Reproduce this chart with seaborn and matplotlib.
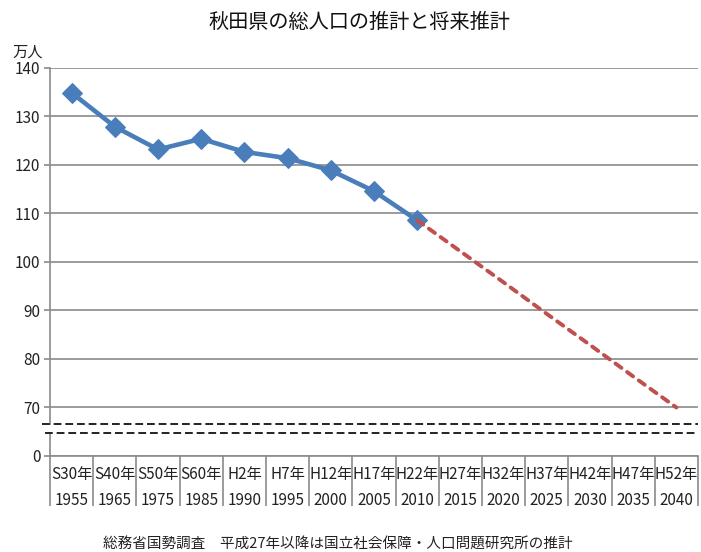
import numpy as np
import pandas as pd
import matplotlib
matplotlib.use("Agg")
import matplotlib.pyplot as plt
from matplotlib.patches import Rectangle
import seaborn as sns

# census (S30 .. H22) and projection (H22 .. H52), in 10,000 persons
census_labels = ["S30年\n1955", "S40年\n1965", "S50年\n1975", "S60年\n1985", "H2年\n1990",
                 "H7年\n1995", "H12年\n2000", "H17年\n2005", "H22年\n2010"]
census_values = [134.9, 127.9, 123.2, 125.4, 122.7, 121.4, 118.9, 114.6, 108.6]

proj_labels = ["H22年\n2010", "H27年\n2015", "H32年\n2020", "H37年\n2025", "H42年\n2030",
               "H47年\n2035", "H52年\n2040"]
proj_values = [108.6, 102.2, 95.8, 89.3, 82.9, 76.4, 70.0]

ytick_values = [60, 70, 80, 90, 100, 110, 120, 130, 140]
ytick_labels = ["0", "70", "80", "90", "100", "110", "120", "130", "140"]

title = "秋田県の総人口の推計と将来推計"
unit_label = "万人"
source_note = "総務省国勢調査　平成27年以降は国立社会保障・人口問題研究所の推計"

sns.set_theme(style="white")
plt.rcParams['font.family'] = ['Noto Sans CJK JP', 'DejaVu Sans']

census_df = pd.DataFrame({"year": census_labels, "pop": census_values})
proj_df = pd.DataFrame({"year": proj_labels, "pop": proj_values})

fig = plt.figure(figsize=(7.01, 5.52), dpi=100)
ax = fig.add_axes([50 / 701, 1 - 456 / 552, 648 / 701, 388 / 552])

grid_c = "#8a8a8a"

sns.lineplot(data=census_df, x="year", y="pop", sort=False, ax=ax,
             color="#4A7EBB", linewidth=3.3, marker="D", markersize=10,
             markeredgecolor="#4A7EBB", zorder=3)
sns.lineplot(data=proj_df, x="year", y="pop", sort=False, ax=ax,
             color="#C0504D", linewidth=2.8, linestyle=(0, (1.9, 1.8)),
             dash_capstyle="round", zorder=4)

all_labels = list(dict.fromkeys(census_labels + proj_labels))
n = len(all_labels)
ax.set_xlim(-0.5, n - 0.5)
ax.set_ylim(60, 140)
ax.set_xticks(range(n), labels=all_labels, linespacing=1.75)
ax.set_xticks(np.arange(-0.5, n, 1), minor=True)
ax.set_yticks(ytick_values, labels=ytick_labels)
ax.set_xlabel("")
ax.set_ylabel("")

ax.grid(axis="y", color=grid_c, linewidth=1.2)
ax.set_axisbelow(True)
for side in ["top", "right"]:
    ax.spines[side].set_visible(False)
for side in ["left", "bottom"]:
    ax.spines[side].set_color(grid_c)
    ax.spines[side].set_linewidth(1.2)

ax.tick_params(axis="x", which="both", bottom=True, direction="out")
ax.tick_params(axis="x", which="major", length=0, pad=7, labelsize=11, labelcolor="#222222")
ax.tick_params(axis="x", which="minor", length=36, width=1.2, color=grid_c)
ax.tick_params(axis="y", left=True, direction="out", length=4, width=1.2, color=grid_c,
               pad=3, labelsize=11, labelcolor="#222222")

# axis break between 0 and 70
ytr = ax.get_yaxis_transform()
ax.add_patch(Rectangle((-0.02, 64.9), 1.02, 1.5, transform=ytr, facecolor="white",
                       edgecolor="none", clip_on=False, zorder=5))
ax.plot([-0.013, 1.0], [66.6, 66.6], transform=ytr, color="#222222", lw=1.4,
        linestyle=(0, (4.0, 2.0)), clip_on=False, zorder=6)
ax.plot([-0.008, 1.0], [64.7, 64.7], transform=ytr, color="#222222", lw=1.4,
        linestyle=(0, (4.0, 2.0)), clip_on=False, zorder=6)

fig.text(359 / 701, 1 - 22 / 552, title, ha="center", va="center", fontsize=14.5,
         color="#111111")
fig.text(12 / 701, 1 - 52 / 552, unit_label, ha="left", va="center", fontsize=11,
         color="#222222")
fig.text(338 / 701, 1 - 545 / 552, source_note, ha="center", va="center", fontsize=10.5,
         color="#222222")

fig.savefig("out.png", dpi=100)
